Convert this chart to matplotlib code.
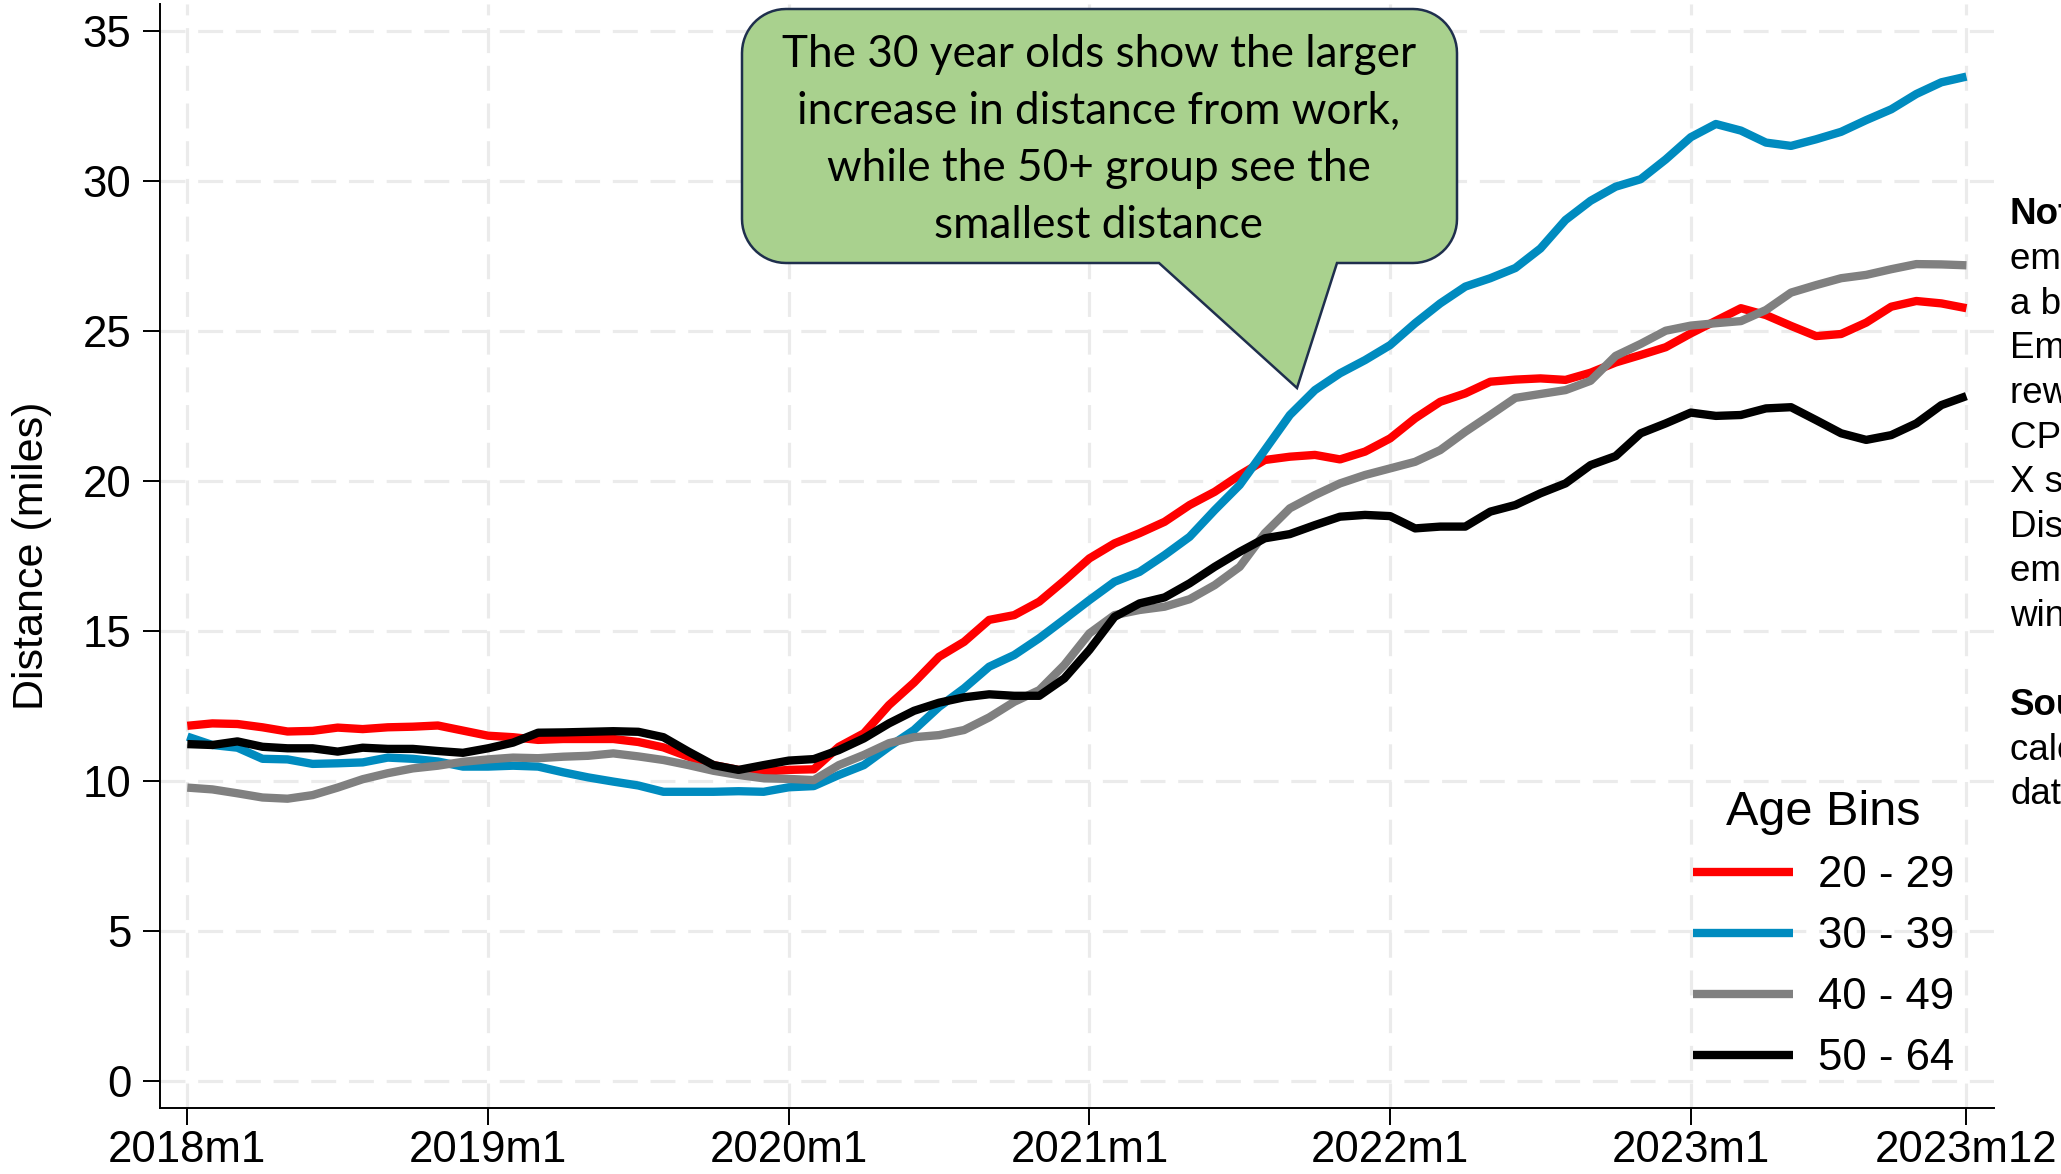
import matplotlib
matplotlib.use("Agg")
import matplotlib.pyplot as plt
import numpy as np
from matplotlib.path import Path
from matplotlib.patches import PathPatch
from matplotlib.lines import Line2D

plt.rcParams['font.family'] = ['Liberation Sans', 'DejaVu Sans']

# ---------------- data ----------------
months = np.arange(72)  # 2018m1 ... 2023m12
tick_months = [0, 12, 24, 36, 48, 60, 71]
tick_labels = ["2018m1", "2019m1", "2020m1", "2021m1", "2022m1", "2023m1", "2023m12"]
y_ticks = [0, 5, 10, 15, 20, 25, 30, 35]

series_labels = ["20 - 29", "30 - 39", "40 - 49", "50 - 64"]
series_colors = ["#ff0000", "#008bbf", "#808080", "#000000"]

age_20_29 = [11.84, 11.92, 11.90, 11.79, 11.65, 11.67, 11.78, 11.73, 11.79, 11.81,
             11.85, 11.68, 11.51, 11.46, 11.37, 11.40, 11.40, 11.40, 11.30, 11.12,
             10.81, 10.53, 10.37, 10.31, 10.37, 10.39, 11.14, 11.59, 12.53, 13.28,
             14.14, 14.64, 15.37, 15.53, 15.98, 16.68, 17.42, 17.92, 18.26, 18.64,
             19.20, 19.64, 20.20, 20.70, 20.81, 20.87, 20.72, 20.98, 21.42, 22.09,
             22.64, 22.92, 23.31, 23.38, 23.42, 23.37, 23.61, 23.95, 24.20, 24.46,
             24.92, 25.34, 25.76, 25.53, 25.17, 24.83, 24.90, 25.28, 25.81, 26.00,
             25.92, 25.76]
age_30_39 = [11.48, 11.20, 11.11, 10.74, 10.72, 10.57, 10.59, 10.62, 10.78, 10.74,
             10.65, 10.48, 10.48, 10.51, 10.48, 10.29, 10.12, 9.98, 9.85, 9.64,
             9.64, 9.64, 9.66, 9.64, 9.79, 9.83, 10.20, 10.53, 11.14, 11.70,
             12.47, 13.09, 13.81, 14.20, 14.76, 15.39, 16.03, 16.64, 16.97, 17.53,
             18.14, 19.03, 19.87, 21.03, 22.20, 23.03, 23.59, 24.03, 24.53, 25.26,
             25.92, 26.48, 26.76, 27.10, 27.75, 28.70, 29.34, 29.81, 30.06, 30.72,
             31.46, 31.90, 31.68, 31.28, 31.17, 31.39, 31.64, 32.03, 32.39, 32.90,
             33.29, 33.48]
age_40_49 = [9.78, 9.72, 9.59, 9.45, 9.41, 9.53, 9.78, 10.06, 10.26, 10.42,
             10.51, 10.64, 10.72, 10.78, 10.76, 10.81, 10.84, 10.92, 10.82, 10.70,
             10.53, 10.34, 10.20, 10.09, 10.07, 10.03, 10.53, 10.87, 11.26, 11.46,
             11.53, 11.70, 12.12, 12.64, 13.03, 13.87, 14.92, 15.53, 15.70, 15.81,
             16.06, 16.53, 17.14, 18.26, 19.09, 19.53, 19.92, 20.20, 20.42, 20.64,
             21.03, 21.64, 22.20, 22.77, 22.90, 23.03, 23.34, 24.17, 24.57, 25.01,
             25.18, 25.26, 25.33, 25.70, 26.28, 26.53, 26.76, 26.87, 27.06, 27.23,
             27.22, 27.19]
age_50_64 = [11.23, 11.20, 11.32, 11.14, 11.09, 11.09, 10.98, 11.11, 11.07, 11.07,
             11.00, 10.94, 11.09, 11.28, 11.61, 11.62, 11.64, 11.66, 11.64, 11.46,
             10.98, 10.53, 10.37, 10.53, 10.68, 10.73, 11.03, 11.42, 11.92, 12.34,
             12.61, 12.79, 12.89, 12.84, 12.84, 13.42, 14.37, 15.47, 15.92, 16.12,
             16.59, 17.14, 17.64, 18.09, 18.23, 18.53, 18.81, 18.87, 18.83, 18.42,
             18.48, 18.48, 18.98, 19.20, 19.59, 19.92, 20.53, 20.83, 21.59, 21.92,
             22.28, 22.17, 22.20, 22.42, 22.46, 22.03, 21.59, 21.37, 21.53, 21.92,
             22.53, 22.83]
series = [age_20_29, age_30_39, age_40_49, age_50_64]

callout_lines = ["The 30 year olds show the larger",
                 "increase in distance from work,",
                 "while the 50+ group see the",
                 "smallest distance"]

notes_lines = [("Notes:", " Sample of workers"),
               ("", "employed and matched to"),
               ("", "a business address."),
               ("", "Employment weights are"),
               ("", "reweighted to match the"),
               ("", "CPS age distribution."),
               ("", "X scale shows months."),
               ("", "Distance between the"),
               ("", "employee home and work,"),
               ("", "winsorized at the 99th pct."),
               ("", ""),
               ("Source:", " Authors'"),
               ("", "calculations using payroll"),
               ("", "data.")]

# ---------------- figure ----------------
W, H = 2061, 1174
fig = plt.figure(figsize=(W / 100, H / 100), dpi=100)
fig.patch.set_facecolor("white")

def fx(px):
    return px / W

def fy(py):
    return 1 - py / H

ax_left, ax_right, ax_top, ax_bottom = 160, 1994, 4, 1108
ax = fig.add_axes([fx(ax_left), fy(ax_bottom), (ax_right - ax_left) / W, (ax_bottom - ax_top) / H])

for vals, col, lab in zip(series, series_colors, series_labels):
    ax.plot(months, vals, color=col, lw=6, label=lab, solid_capstyle="butt", zorder=3)

ax.set_xlim(-1.09, 72.1)
ax.set_ylim(-0.9, 35.9)
ax.set_xticks(tick_months)
ax.set_xticklabels(tick_labels)
ax.set_yticks(y_ticks)
ax.set_yticklabels([str(v) for v in y_ticks])

for s in ["top", "right"]:
    ax.spines[s].set_visible(False)
for s in ["left", "bottom"]:
    ax.spines[s].set_linewidth(1.4)
    ax.spines[s].set_color("black")

ax.tick_params(axis="both", length=12.2, width=1.4, labelsize=31.5, colors="black")
ax.tick_params(axis="y", pad=8.5)
ax.tick_params(axis="x", pad=3.5)

ax.set_axisbelow(True)
ax.grid(True, color="#ebebeb", lw=2.3, linestyle=(0, (7.8, 4.0)))

ax.set_ylabel("Distance (miles)", fontsize=31)
ax.yaxis.set_label_coords((52 - ax_left) / (ax_right - ax_left), 0.5)

# legend
handles = [Line2D([0], [0], color=c, lw=6, solid_capstyle="butt") for c in series_colors]
leg = ax.legend(handles, series_labels, title="Age Bins", loc="upper left",
                bbox_to_anchor=(fx(1693), fy(790)), bbox_transform=fig.transFigure,
                frameon=False, fontsize=31.5, title_fontsize=35, handlelength=2.29,
                handletextpad=0.57, labelspacing=0.46, borderpad=0, borderaxespad=0)

# ---------------- callout ----------------
def callout_path(x0, x1, y0, y1, r, bx0, bx1, tx, ty):
    pts = []
    def arc(cx, cy, a0, a1):
        t = np.radians(np.linspace(a0, a1, 16))
        return [(cx + r * np.cos(a), cy + r * np.sin(a)) for a in t]
    pts += arc(x0 + r, y0 + r, 180, 270)
    pts += arc(x1 - r, y0 + r, 270, 360)
    pts += arc(x1 - r, y1 - r, 0, 90)
    pts += [(bx1, y1), (tx, ty), (bx0, y1)]
    pts += arc(x0 + r, y1 - r, 90, 180)
    pts.append(pts[0])
    verts = [(fx(x), fy(y)) for x, y in pts]
    codes = [Path.MOVETO] + [Path.LINETO] * (len(verts) - 2) + [Path.CLOSEPOLY]
    return Path(verts, codes)

patch = PathPatch(callout_path(742, 1457, 9, 263, 44, 1159, 1337, 1297, 388),
                  facecolor="#a9d18e", edgecolor="#1f2f4d", lw=1.8,
                  transform=fig.transFigure, zorder=5)
fig.add_artist(patch)

callout_baselines = [67, 124, 181, 238]
ctexts = []
for line, yb in zip(callout_lines, callout_baselines):
    t = fig.text(fx(1099), fy(yb), line, ha="center", va="baseline",
                 fontsize=30, family=["Lato", "DejaVu Sans"], color="black", zorder=6)
    ctexts.append(t)

fig.canvas.draw()
renderer = fig.canvas.get_renderer()
w = ctexts[0].get_window_extent(renderer).width
fs_new = 30 * 633 / w
for t in ctexts:
    t.set_fontsize(fs_new)

# ---------------- notes (cut at right edge) ----------------
note_x = 2010
for i, (bold, rest) in enumerate(notes_lines):
    yb = 224.5 + 44.6 * i
    x = note_x
    if bold:
        tb = fig.text(fx(x), fy(yb), bold, ha="left", va="baseline", fontsize=26.5,
                      fontweight="bold")
        x += tb.get_window_extent(renderer).width
    if rest:
        fig.text(fx(x), fy(yb), rest, ha="left", va="baseline", fontsize=26.5)

fig.savefig("out.png", dpi=100)
